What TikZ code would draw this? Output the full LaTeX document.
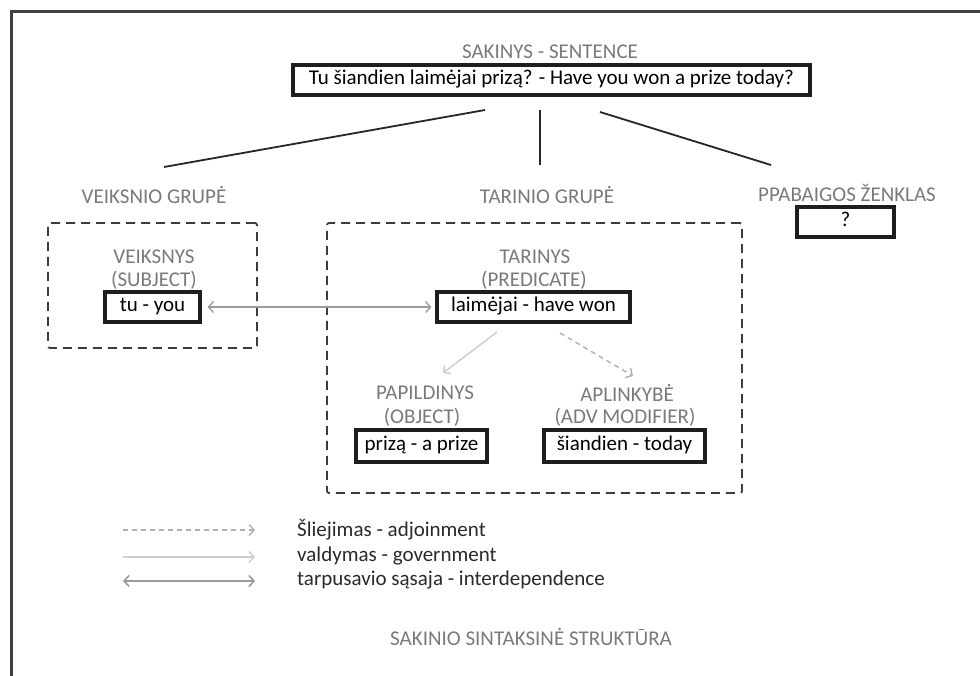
\documentclass[tikz,border=0pt]{standalone}
\usepackage{fontspec}
\setmainfont{Carlito}
\usetikzlibrary{arrows.meta}
\definecolor{lblgray}{HTML}{7A7A7A}
\definecolor{boxc}{HTML}{1E1E1E}
\definecolor{grpc}{HTML}{3C3C3C}
\definecolor{framec}{HTML}{404040}
\definecolor{legc}{HTML}{2A2A2A}
\definecolor{interc}{HTML}{9A9A9A}
\definecolor{govc}{HTML}{CFCFCF}
\definecolor{adjc}{HTML}{B2B2B2}
\begin{document}
\begin{tikzpicture}[x=1pt,y=-1pt,
  lbl/.style={inner sep=0pt, text=lblgray, font=\fontsize{21}{23}\selectfont},
  legt/.style={inner sep=0pt, text=legc, font=\fontsize{21}{23}\selectfont},
  wbox/.style={draw=boxc, line width=3.2pt, inner sep=0pt, fill=white,
    font=\fontsize{21}{23}\selectfont, text height=14pt, text depth=5.5pt, minimum height=30pt},
  grp/.style={draw=grpc, line width=1.8pt, dash pattern=on 9pt off 6pt, rounded corners=2pt, inner sep=0pt},
  tree/.style={draw=black!85, line width=1.8pt},
  inter/.style={draw=interc, line width=1.3pt, {Straight Barb[length=5pt,width=11pt]}-{Straight Barb[length=5pt,width=11pt]}},
  gov/.style={draw=govc, line width=1.5pt, -{Straight Barb[length=5pt,width=11pt]}},
  adj/.style={draw=adjc, line width=1.4pt, dash pattern=on 5pt off 4pt, -{Straight Barb[length=5pt,width=11pt]}},
]
\useasboundingbox (0,0) rectangle (980,676);
\fill[white] (0,0) rectangle (980,676);
% frame
\draw[line width=3pt, color=framec] (11,676) -- (11,12) -- (980,12);

% sentence
\node[lbl] (sentlbl) at (550,52) {SAKINYS - SENTENCE};
\node[wbox, minimum width=517pt] (sent) at (551.5,80) {Tu šiandien laimėjai prizą? - Have you won a prize today?};

% tree lines
\coordinate (t1) at (485,110); \coordinate (t1e) at (164,167);
\coordinate (t2) at (540,110); \coordinate (t2e) at (540,165);
\coordinate (t3) at (600,112); \coordinate (t3e) at (771,165);
\draw[tree] (t1) -- (t1e);
\draw[tree] (t2) -- (t2e);
\draw[tree] (t3) -- (t3e);

% group labels
\node[lbl] (vg) at (154,195) {VEIKSNIO GRUPĖ};
\node[lbl] (tg) at (547,195) {TARINIO GRUPĖ};
\node[lbl] (pz) at (847,193) {PPABAIGOS ŽENKLAS};
\node[wbox, minimum width=97pt] (q) at (845.5,222) {?};

% dashed groups
\node[grp, minimum width=209pt, minimum height=125pt] (gV) at (152.5,285.5) {};
\node[grp, minimum width=415pt, minimum height=270pt] (gT) at (534.5,358) {};

% subject
\node[lbl] (vs1) at (154,257) {VEIKSNYS};
\node[lbl] (vs2) at (154,280) {(SUBJECT)};
\node[wbox, minimum width=95pt] (tu) at (152.5,307) {tu - you};

% predicate
\node[lbl] (tr1) at (535,257) {TARINYS};
\node[lbl] (tr2) at (534,280) {(PREDICATE)};
\node[wbox, minimum width=193pt] (laim) at (533.5,307) {laimėjai - have won};

% object
\node[lbl] (pp1) at (425,393) {PAPILDINYS};
\node[lbl] (pp2) at (422,417) {(OBJECT)};
\node[wbox, minimum width=131pt, minimum height=32pt] (priz) at (421.5,446) {prizą - a prize};

% adverbial modifier
\node[lbl] (ap1) at (627,393) {APLINKYBĖ};
\node[lbl] (ap2) at (625,417) {(ADV MODIFIER)};
\node[wbox, minimum width=161pt, minimum height=32pt] (sian) at (624.5,446) {šiandien - today};

% relations
\draw[inter] ([xshift=6pt]tu.east) -- ([xshift=-4pt]laim.west);
\coordinate (g1) at (497,332); \coordinate (g2) at (443,373);
\draw[gov] (g1) -- (g2);
\coordinate (a1) at (560,333); \coordinate (a2) at (633,376);
\draw[adj] (a1) -- (a2);

% legend
\coordinate (l1a) at (123,530); \coordinate (l1b) at (255,530);
\coordinate (l2a) at (123,557); \coordinate (l2b) at (255,557);
\coordinate (l3a) at (123,581); \coordinate (l3b) at (255,581);
\draw[adj] (l1a) -- (l1b);
\draw[gov] (l2a) -- (l2b);
\draw[inter, line width=1.6pt] (l3a) -- (l3b);
\node[legt, anchor=west] (lt1) at (297,530) {Šliejimas - adjoinment};
\node[legt, anchor=west] (lt2) at (297,556) {valdymas - government};
\node[legt, anchor=west] (lt3) at (297,580) {tarpusavio sąsaja - interdependence};

% caption
\node[lbl, anchor=west] (cap) at (390,637) {SAKINIO SINTAKSINĖ STRUKTŪRA};
\end{tikzpicture}
\end{document}
